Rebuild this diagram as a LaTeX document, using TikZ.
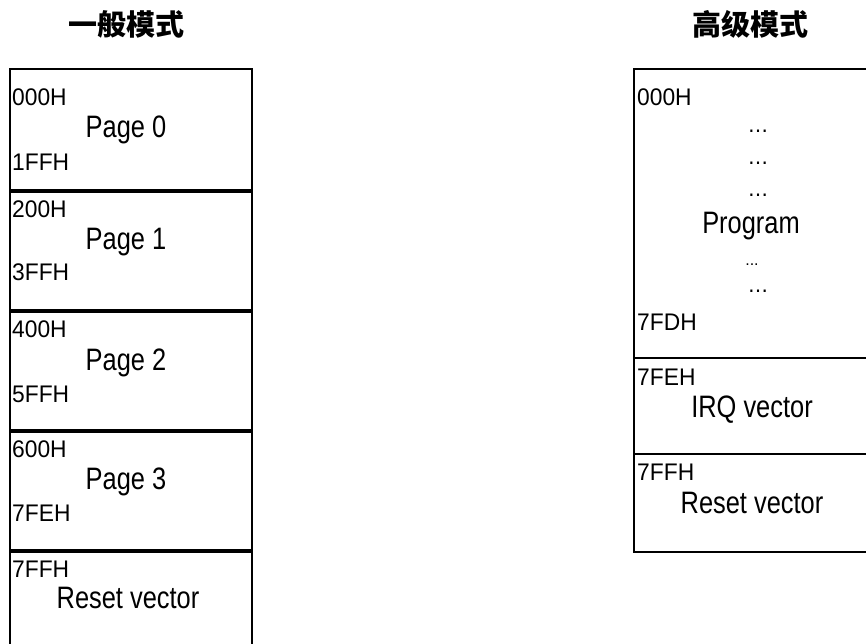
\documentclass[tikz,border=0pt]{standalone}
\usepackage{fontspec}
\setmainfont{Liberation Sans}
\newfontfamily\cond[FakeStretch=0.82]{Liberation Sans}
\newfontfamily\acond[FakeStretch=0.95]{Liberation Sans}
\newfontfamily\cjk{Noto Sans CJK SC}
\newfontfamily\dejavu{DejaVu Sans}
\begin{document}
\begin{tikzpicture}[x=1pt,y=-1pt,
  box/.style={draw=black,line width=1.6pt,inner sep=0pt,anchor=north west},
  addr/.style={anchor=base west,inner sep=0pt,font=\acond\fontsize{24}{24}\selectfont},
  lbl/.style={anchor=base,inner sep=0pt,font=\cond\fontsize{31}{31}\selectfont},
  dots/.style={anchor=center,inner sep=0pt,font=\dejavu\fontsize{20}{20}\selectfont},
  ttl/.style={anchor=center,inner sep=0pt,font=\cjk\bfseries\fontsize{29}{29}\selectfont}]
\clip (0,0) rectangle (866,643);
\fill[white] (0,0) rectangle (866,643);
% titles
\node[ttl] (t1) at (126,24) {一般模式};
\node[ttl] (t2) at (750,24) {高级模式};
% left column boxes
\node[box,minimum width=242pt,minimum height=121pt] (b0) at (9,68) {};
\node[box,minimum width=242pt,minimum height=118pt] (b1) at (9,191) {};
\node[box,minimum width=242pt,minimum height=118pt] (b2) at (9,311) {};
\node[box,minimum width=242pt,minimum height=118pt] (b3) at (9,431) {};
\node[box,minimum width=242pt,minimum height=150pt] (b4) at (9,551) {};
% left labels
\node[addr] (a00) at (12,105) {000H};
\node[lbl]  (p0)  at (126,137) {Page 0};
\node[addr] (a01) at (12,170) {1FFH};
\node[addr] (a10) at (12,217) {200H};
\node[lbl]  (p1)  at (126,249) {Page 1};
\node[addr] (a11) at (12,280) {3FFH};
\node[addr] (a20) at (12,337) {400H};
\node[lbl]  (p2)  at (126,370) {Page 2};
\node[addr] (a21) at (12,402) {5FFH};
\node[addr] (a30) at (12,457) {600H};
\node[lbl]  (p3)  at (126,489) {Page 3};
\node[addr] (a31) at (12,521) {7FEH};
\node[addr] (a40) at (12,577) {7FFH};
\node[lbl]  (p4)  at (128,608) {Reset vector};
% right column boxes
\node[box,minimum width=260pt,minimum height=289pt] (r0) at (633,68) {};
\node[box,minimum width=260pt,minimum height=96pt] (r1) at (633,357) {};
\node[box,minimum width=260pt,minimum height=98pt] (r2) at (633,453) {};
% right labels
\node[addr] (q00) at (637,105) {000H};
\node[dots] (d1) at (758,131) {…};
\node[dots] (d2) at (758,163) {…};
\node[dots] (d3) at (758,195) {…};
\node[lbl]  (pg) at (751,233) {Program};
\node[anchor=base,inner sep=0pt,font=\fontsize{16}{16}\selectfont] (d4) at (752,265) {...};
\node[dots] (d5) at (758,291) {…};
\node[addr] (q01) at (637,330) {7FDH};
\node[addr] (q10) at (637,385) {7FEH};
\node[lbl]  (irq) at (752,417) {IRQ vector};
\node[addr] (q20) at (637,480) {7FFH};
\node[lbl]  (rst) at (752,513) {Reset vector};
\end{tikzpicture}
\end{document}
